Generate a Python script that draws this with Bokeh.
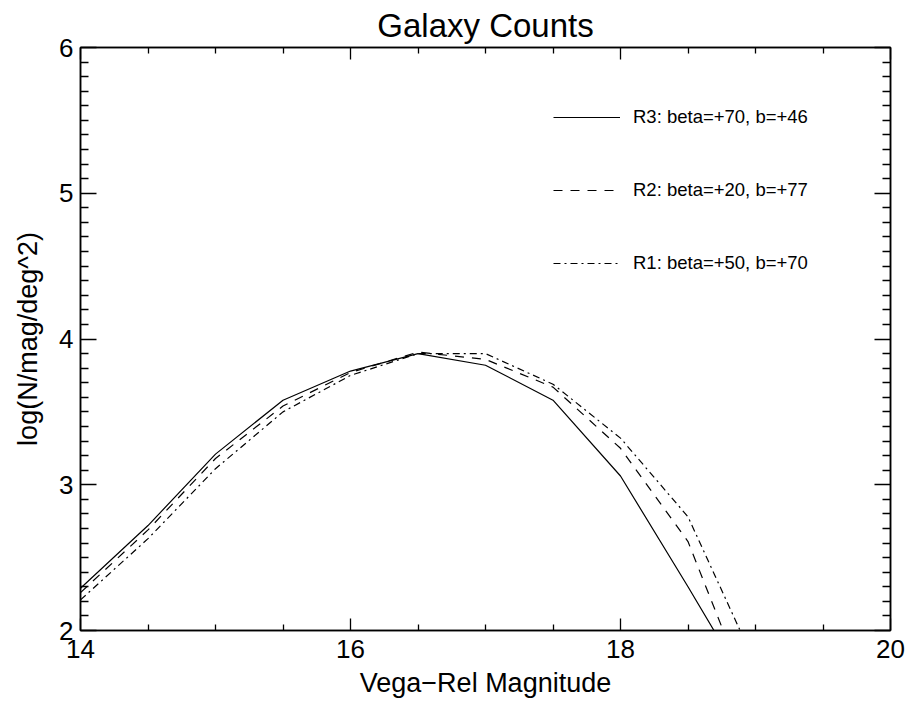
from bokeh.plotting import figure
from bokeh.models import FixedTicker, LinearAxis, Range1d, Legend, LegendItem
from bokeh.embed import file_html
from bokeh.resources import INLINE

# ---- data ----
mag = [14.0, 14.5, 15.0, 15.5, 16.0, 16.5, 17.0, 17.5, 18.0, 18.5, 19.0]
r3 = [2.29, 2.72, 3.21, 3.58, 3.78, 3.90, 3.82, 3.58, 3.06, 2.30, 1.52]
r2 = [2.26, 2.69, 3.18, 3.54, 3.77, 3.91, 3.86, 3.67, 3.25, 2.61, 1.44]
r1 = [2.21, 2.63, 3.11, 3.50, 3.75, 3.90, 3.90, 3.69, 3.32, 2.78, 1.77]

labels = ["R3: beta=+70, b=+46", "R2: beta=+20, b=+77", "R1: beta=+50, b=+70"]

x_major = [14, 16, 18, 20]
x_minor = [14.5, 15, 15.5, 16.5, 17, 17.5, 18.5, 19, 19.5]
y_major = [2, 3, 4, 5, 6]
y_minor = [round(2 + 0.1 * i, 1) for i in range(41) if i % 10 != 0]

FONT = "Liberation Sans"

p = figure(width=909, height=706,
           x_range=Range1d(14, 20), y_range=Range1d(2, 6),
           output_backend="svg", toolbar_location=None,
           x_axis_location=None, y_axis_location=None,
           min_border_left=80, min_border_right=19,
           min_border_top=47, min_border_bottom=76,
           title="Galaxy Counts")
p.grid.visible = False
p.outline_line_color = "black"
p.outline_line_width = 1.5
p.background_fill_color = "white"
p.border_fill_color = "white"

p.title.align = "center"
p.title.text_font = FONT
p.title.text_font_size = "33px"
p.title.text_font_style = "normal"
p.title.text_color = "black"
p.title.standoff = 8
p.title.offset = 0


def style_axis(ax, major, minor, tin, show_labels):
    ax.ticker = FixedTicker(ticks=major, minor_ticks=minor)
    ax.major_tick_in = tin
    ax.major_tick_out = 0
    ax.minor_tick_in = tin // 2
    ax.minor_tick_out = 0
    ax.axis_line_width = 1.5
    ax.major_tick_line_width = 1.3
    ax.minor_tick_line_width = 1.3
    ax.axis_line_color = "black"
    ax.major_tick_line_color = "black"
    ax.minor_tick_line_color = "black"
    if show_labels:
        ax.major_label_text_font = FONT
        ax.major_label_text_font_size = "26px"
        ax.major_label_text_color = "black"
        ax.axis_label_text_font = FONT
        ax.axis_label_text_font_style = "normal"
        ax.axis_label_text_color = "black"
        ax.axis_label_text_font_size = "27px"
    else:
        ax.major_label_text_font_size = "0px"
        ax.major_label_text_color = None
        ax.major_label_standoff = 0
        ax.axis_label = None


xb = LinearAxis(axis_label="Vega\u2212Rel Magnitude")
style_axis(xb, x_major, x_minor, 12, True)
xb.major_label_standoff = 9
xb.axis_label_standoff = 7
p.add_layout(xb, "below")

yl = LinearAxis(axis_label="log(N/mag/deg^2)")
style_axis(yl, y_major, y_minor, 16, True)
yl.major_label_standoff = 7
yl.axis_label_standoff = 13
p.add_layout(yl, "left")

xt = LinearAxis()
style_axis(xt, x_major, x_minor, 12, False)
p.add_layout(xt, "above")

yr = LinearAxis()
style_axis(yr, y_major, y_minor, 16, False)
p.add_layout(yr, "right")

l3 = p.line(mag, r3, line_color="black", line_width=1.2)
l2 = p.line(mag, r2, line_color="black", line_width=1.2, line_dash="9 8")
l1 = p.line(mag, r1, line_color="black", line_width=1.2, line_dash="7 4 2 4")

legend = Legend(items=[LegendItem(label=labels[0], renderers=[l3]),
                       LegendItem(label=labels[1], renderers=[l2]),
                       LegendItem(label=labels[2], renderers=[l1])],
                location=(473, 356))
legend.glyph_width = 67
legend.glyph_height = 20
legend.label_height = 20
legend.spacing = 51
legend.padding = 0
legend.margin = 0
legend.label_standoff = 13
legend.label_text_font = FONT
legend.label_text_font_size = "18.5px"
legend.label_text_color = "black"
legend.label_text_baseline = "alphabetic"
legend.border_line_alpha = 0
legend.background_fill_alpha = 0
p.add_layout(legend, "center")

open("out.html", "w").write(file_html(p, INLINE))
